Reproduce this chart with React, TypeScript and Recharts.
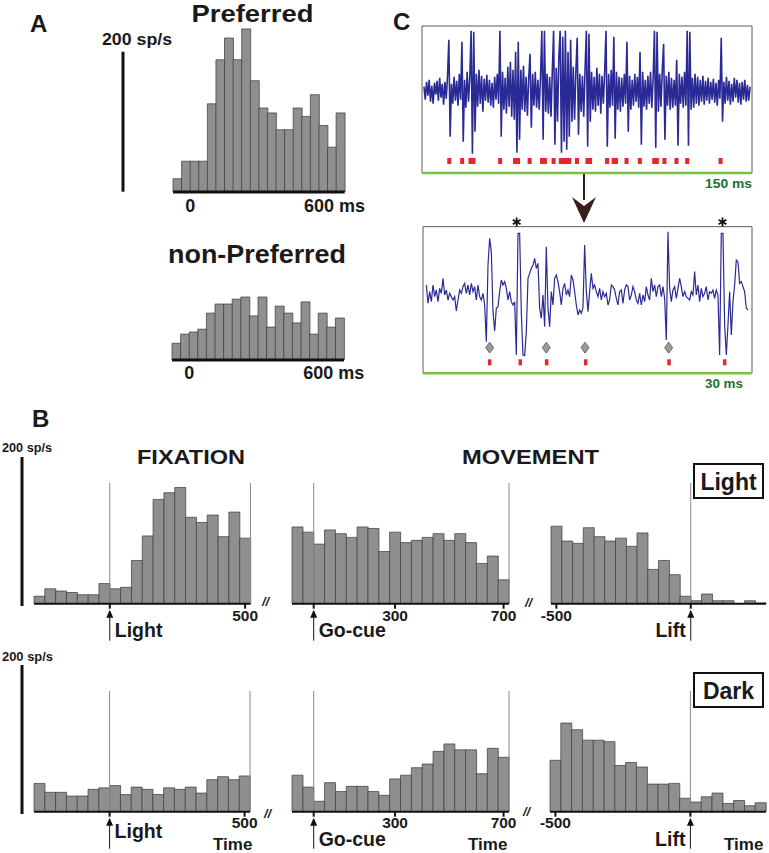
import React from 'react';
import {
  BarChart,
  Bar,
  XAxis,
  YAxis,
  ReferenceLine,
  ReferenceArea,
  ComposedChart,
  Line,
  Scatter,
} from 'recharts';

const FONT = '"Liberation Sans", Arial, Helvetica, sans-serif';
const BIN_MS = 40;

// A: firing rate (sp/s) in 40 ms bins starting at -80 ms
const preferredRates = [19, 44, 44, 44, 126, 189, 220, 189, 233, 159, 120, 113, 89, 89, 120, 108, 139, 95, 64, 113];
const nonPreferredRates = [24, 37, 40, 44, 67, 80, 80, 87, 90, 63, 90, 47, 77, 67, 53, 83, 37, 67, 47, 60];

// B: 40 ms bins. fixation starts -280 ms, go-cue -80 ms, lift -520 ms
const fixationLight = [10, 20, 17, 15, 12, 12, 27, 20, 22, 58, 91, 140, 149, 156, 116, 109, 119, 90, 123, 88];
const goCueLight = [103, 96, 80, 99, 94, 89, 103, 101, 70, 96, 82, 85, 89, 94, 85, 94, 82, 54, 64, 32];
const liftLight = [104, 84, 81, 102, 90, 84, 88, 77, 95, 46, 58, 39, 10, 4, 13, 4, 4, 0, 4, 1];
const fixationDark = [38, 26, 26, 21, 21, 30, 32, 35, 23, 33, 30, 23, 32, 30, 33, 25, 43, 47, 43, 48];
const goCueDark = [49, 33, 14, 39, 27, 34, 34, 27, 22, 44, 49, 59, 64, 81, 91, 83, 83, 51, 85, 73];
const liftDark = [69, 119, 110, 96, 96, 94, 62, 66, 60, 37, 37, 38, 18, 13, 20, 25, 11, 15, 8, 12];

// C: raw signal, 150 ms window (0.6 ms per sample)
const LONG_DT = 0.6;
const longTrace = [
  5, -8, 10, -4, 12, -10, 6, -12, 9, -3,
  11, -9, 14, -6, 8, -13, 10, -7, 16, 52,
  -45, 8, -12, 15, -9, 11, -14, 18, -8, 50,
  -50, 12, -16, 20, -10, 14, 61, -62, 60, -40,
  18, -15, 22, -12, 16, -20, 13, -9, 17, -11,
  12, -14, 9, -16, 15, -8, 18, -12, 61, -45,
  20, -18, 14, -22, 25, -15, 30, -25, 22, -28,
  40, -61, 50, -48, 22, -18, 26, -20, 15, -24,
  14, 38, -36, 18, -14, 20, -16, 12, -18, 15,
  61, -48, 61, -20, 18, -22, 15, -25, 20, 61,
  -53, 24, -30, 35, 61, -61, 55, -50, 61, -58,
  40, -45, 52, -30, 25, -28, 20, 54, -43, 18,
  -20, 16, -25, 22, 61, -55, 58, -30, 20, -18,
  15, -20, 24, -14, 18, -22, 16, -12, 20, 61,
  -55, 18, -16, 22, -14, 55, -47, 20, -18, 15,
  -20, 14, -15, 18, -12, 50, -40, 16, -18, 12,
  -14, 18, -10, 15, -16, 40, -53, 20, -15, 12,
  -18, 16, -12, 20, -16, 14, 61, -56, 60, -20,
  18, -15, 22, 48, -48, 16, -14, 20, -18, 14,
  -16, 12, -14, 32, -54, 18, -12, 15, -16, 20,
  -14, 61, -54, 60, -18, 14, -16, 18, -12, 15,
  -14, 12, -10, 16, -13, 11, -9, 14, -12, 10,
  -8, 13, -11, 9, -14, 12, -7, 54, -30, 10,
  -12, 15, -9, 11, -13, 8, -10, 14, -6, 12,
  -11, 9, -13, 10, -8, 12, -10, 7, -9, 5,
];
const longSpikeTimes = [
  11.6, 17.5, 21.3, 22.7, 34.9, 41.7, 43.1, 48.4, 54.1, 55.4, 59.4, 62.7, 63.9, 65.1, 66.6,
  70.1, 74.9, 76.1, 83.9, 86.9, 88.0, 92.8, 98.9, 105.5, 106.7, 110.2, 115.7, 120.6, 135.9,
];

// C: expanded 30 ms window (0.155 ms per sample)
const SHORT_DT = 0.155;
const shortTrace = [
  25, -30, 5, -25, 25, -10, 10, -25, 15, 0,
  45, -5, 10, -20, 0, -10, -20, -10, -53, -20,
  10, 0, 20, 30, 0, 25, -5, 30, 5, 20,
  -20, 25, -10, -20, 0, -35, -145, 85, 165, 125,
  -55, -113, -45, -40, 5, 40, 25, 35, 15, -20,
  5, -25, -35, -25, -185, 180, 180, -60, -185, -187,
  -115, 45, 60, 75, 85, 105, 75, 90, -45, -75,
  -5, -100, 140, -45, -100, 5, -35, 45, 55, 35,
  5, -35, 15, 30, -5, 10, -10, 55, 40, 5,
  -35, -65, -50, -60, -43, 145, 5, -55, 5, 60,
  15, 25, 5, -10, 15, -20, 5, -10, 0, -35,
  -20, 25, 20, 10, -15, -35, 5, 10, -30, 10,
  25, 20, -20, -5, 20, 5, -20, -30, 0, -35,
  -5, -25, 20, -5, -20, 45, 5, 25, -10, 20,
  25, -10, 20, -15, -140, 185, 15, -25, 10, 20,
  -15, 15, 45, 20, -10, 5, -10, -15, -20, 5,
  -5, 65, -5, 25, -25, 15, -10, 0, 20, -20,
  5, 0, 10, -15, 10, -5, -185, 180, 180, -95,
  -185, -95, 5, -125, -25, 25, 100, 95, 30, 35,
  20, 5, -45, -50,
];
const shortSpikeTimes = [5.89, 8.74, 11.19, 14.82, 22.57, 27.75];
const shortSortedTimes = [5.89, 11.16, 14.76, 22.54];
const shortStarTimes = [8.4, 27.55];

const A_PX = 0.7; // px per sp/s in A
const B_PX = 0.745; // px per sp/s in B

type HistProps = {
  rates: number[];
  start: number;
  ticks: number[];
  unitTick?: number;
  event?: string;
  eventSide?: 'left' | 'right';
  eventDy?: number;
  plotLeft: number;
  plotRight: number;
  baseline: number;
  yMax: number;
  pxPerSps: number;
  lines?: number[];
  axisWidth: number;
  tickMarks: boolean;
  labelDy: number;
  labelSize: number;
};

function Histogram(p: HistProps) {
  const padL = 28;
  const padR = 36;
  const padT = 2;
  const axisH = 46;
  const plotW = p.plotRight - p.plotLeft;
  const plotH = p.yMax * p.pxPerSps;
  const end = p.start + p.rates.length * BIN_MS;
  const rows = p.rates.map((rate, i) => ({ bin: i, t: p.start + (i + 0.5) * BIN_MS, rate }));

  const renderTick = (props: any) => {
    const { x, y, payload } = props;
    const v = payload.value;
    if (v === 0 && p.event) {
      const left = p.eventSide === 'left';
      return (
        <g>
          <line x1={x} y1={y} x2={x} y2={y + 5} stroke="#111" strokeWidth={2} />
          <line x1={x} y1={y + 10} x2={x} y2={y + 37} stroke="#111" strokeWidth={1} />
          <path d={`M${x} ${y + 6} L${x - 3.5} ${y + 14} L${x + 3.5} ${y + 14} Z`} fill="#111" />
          <text
            x={left ? x - 5 : x + 5}
            y={y + (p.eventDy ?? 33)}
            textAnchor={left ? 'end' : 'start'}
            fontFamily={FONT}
            fontWeight="bold"
            fontSize={19.5}
            fill="#1a1a1a"
          >
            {p.event}
          </text>
        </g>
      );
    }
    const isUnit = p.unitTick === v;
    const num = String(v);
    return (
      <g>
        {p.tickMarks && <line x1={x} y1={y} x2={x} y2={y + 5} stroke="#111" strokeWidth={2} />}
        <text
          x={isUnit ? x - (num.length * 0.556 * p.labelSize) / 2 : x}
          y={y + p.labelDy}
          textAnchor={isUnit ? 'start' : 'middle'}
          fontFamily={FONT}
          fontWeight="bold"
          fontSize={p.labelSize}
          fill="#1a1a1a"
        >
          {isUnit ? `${num} ms` : num}
        </text>
      </g>
    );
  };

  return (
    <div style={{ position: 'absolute', left: p.plotLeft - padL, top: p.baseline - plotH - padT }}>
      <BarChart
        width={plotW + padL + padR}
        height={padT + plotH + axisH}
        data={rows}
        margin={{ top: padT, right: padR, bottom: 0, left: padL }}
        barCategoryGap={0}
        barGap={0}
      >
        <XAxis
          xAxisId="t"
          dataKey="t"
          type="number"
          domain={[p.start, end]}
          ticks={p.ticks}
          interval={0}
          height={axisH}
          tickSize={0}
          tickMargin={0}
          tickLine={false}
          axisLine={{ stroke: '#111', strokeWidth: p.axisWidth }}
          tick={renderTick}
          allowDataOverflow
        />
        <XAxis dataKey="bin" hide height={0} />
        <YAxis hide domain={[0, p.yMax]} allowDataOverflow />
        <Bar dataKey="rate" fill="#8f8f8f" stroke="#3a3a3a" strokeWidth={0.7} isAnimationActive={false} />
        {(p.lines || []).map((lx) => (
          <ReferenceLine key={lx} xAxisId="t" x={lx} stroke="#8a8a8a" strokeWidth={1} />
        ))}
      </BarChart>
    </div>
  );
}

const redTick = (w: number, h: number) => (props: any) => (
  <rect x={props.cx - w / 2} y={props.cy - h / 2} width={w} height={h} fill="#e5262c" />
);

const diamond = (props: any) => {
  const { cx, cy } = props;
  return (
    <path
      d={`M${cx} ${cy - 5.5} L${cx + 4} ${cy} L${cx} ${cy + 5.5} L${cx - 4} ${cy} Z`}
      fill="#9b9b9b"
      stroke="#555"
      strokeWidth={0.8}
    />
  );
};

const star = (props: any) => {
  const { cx, cy } = props;
  const r = 4.5;
  const dx = r * 0.866;
  const dy = r * 0.5;
  return (
    <g stroke="#111" strokeWidth={1.8}>
      <line x1={cx} y1={cy - r} x2={cx} y2={cy + r} />
      <line x1={cx - dx} y1={cy - dy} x2={cx + dx} y2={cy + dy} />
      <line x1={cx - dx} y1={cy + dy} x2={cx + dx} y2={cy - dy} />
    </g>
  );
};

function LongTrace() {
  const rows = longTrace.map((v, i) => ({ t: i * LONG_DT, v }));
  const ticks = longSpikeTimes.map((t) => ({ t, v: -69.3 }));
  const xd: [number, number] = [-0.9, 150.3];
  const yd: [number, number] = [-81.3, 65.7];
  return (
    <div style={{ position: 'absolute', left: 418, top: 22 }}>
      <ComposedChart width={338} height={155} data={rows} margin={{ top: 4, right: 4, bottom: 4, left: 4 }}>
        <XAxis dataKey="t" type="number" domain={xd} hide allowDataOverflow />
        <YAxis dataKey="v" type="number" domain={yd} hide allowDataOverflow />
        <ReferenceArea x1={xd[0]} x2={xd[1]} y1={yd[0]} y2={yd[1]} fill="none" stroke="#5a5a5a" strokeWidth={1} />
        <ReferenceLine y={yd[0]} stroke="#79c143" strokeWidth={2.5} />
        <Line dataKey="v" stroke="#2a2a96" strokeWidth={1.6} dot={false} isAnimationActive={false} />
        <Scatter data={ticks} shape={redTick(4, 6)} isAnimationActive={false} />
      </ComposedChart>
    </div>
  );
}

function ShortTrace() {
  const rows = shortTrace.map((v, i) => ({ t: i * SHORT_DT, v }));
  const ticks = shortSpikeTimes.map((t) => ({ t, v: -207 }));
  const sorted = shortSortedTimes.map((t) => ({ t, v: -163 }));
  const stars = shortStarTimes.map((t) => ({ t, v: 214 }));
  const xd: [number, number] = [-0.31, 30.29];
  const yd: [number, number] = [-240, 250];
  const boxTop = 200;
  return (
    <div style={{ position: 'absolute', left: 419.3, top: 210 }}>
      <ComposedChart width={337} height={166.3} data={rows} margin={{ top: 0, right: 4, bottom: 3, left: 4 }}>
        <XAxis dataKey="t" type="number" domain={xd} hide allowDataOverflow />
        <YAxis dataKey="v" type="number" domain={yd} hide allowDataOverflow />
        <ReferenceArea x1={xd[0]} x2={xd[1]} y1={yd[0]} y2={boxTop} fill="none" stroke="#5a5a5a" strokeWidth={1} />
        <ReferenceLine y={yd[0]} stroke="#79c143" strokeWidth={2.5} />
        <Line dataKey="v" stroke="#2a2a96" strokeWidth={1.2} dot={false} isAnimationActive={false} />
        <Scatter data={sorted} shape={diamond} isAnimationActive={false} />
        <Scatter data={ticks} shape={redTick(3.5, 6)} isAnimationActive={false} />
        <Scatter data={stars} shape={star} isAnimationActive={false} />
      </ComposedChart>
    </div>
  );
}

const T = (props: any) => (
  <text fontFamily={FONT} fontWeight="bold" fill="#1a1a1a" {...props} />
);

export default function App() {
  const rowB = { yMax: 162, pxPerSps: B_PX, axisWidth: 2, tickMarks: true, labelSize: 15.5 };
  return (
    <div
      style={{
        position: 'absolute',
        left: 0,
        top: 0,
        width: 769,
        height: 853,
        overflow: 'hidden',
        background: '#fff',
      }}
    >
      {/* panel A */}
      <Histogram
        rates={preferredRates}
        start={-80}
        ticks={[0, 600]}
        unitTick={600}
        plotLeft={173.3}
        plotRight={345}
        baseline={191.7}
        yMax={240}
        pxPerSps={A_PX}
        axisWidth={3}
        tickMarks={false}
        labelDy={20}
        labelSize={18}
      />
      <Histogram
        rates={nonPreferredRates}
        start={-80}
        ticks={[0, 600]}
        unitTick={600}
        plotLeft={172.3}
        plotRight={344.3}
        baseline={360}
        yMax={110}
        pxPerSps={A_PX}
        axisWidth={3}
        tickMarks={false}
        labelDy={19}
        labelSize={18}
      />

      {/* panel C */}
      <LongTrace />
      <ShortTrace />

      {/* panel B, light */}
      <Histogram {...rowB} rates={fixationLight} start={-280} ticks={[0, 500]} event="Light" eventDy={33}
        plotLeft={33.5} plotRight={250} baseline={604} lines={[0, 520]} labelDy={17} />
      <Histogram {...rowB} rates={goCueLight} start={-80} ticks={[0, 300, 700]} event="Go-cue" eventDy={33}
        plotLeft={292} plotRight={509} baseline={604} lines={[0, 720]} labelDy={17} />
      <Histogram {...rowB} rates={liftLight} start={-520} ticks={[-500, 0]} event="Lift" eventSide="left" eventDy={33}
        plotLeft={551} plotRight={766} baseline={604} lines={[0]} labelDy={17} />

      {/* panel B, dark */}
      <Histogram {...rowB} rates={fixationDark} start={-280} ticks={[0, 500]} event="Light" eventDy={26}
        plotLeft={34} plotRight={250} baseline={812} lines={[0, 520]} labelDy={16} />
      <Histogram {...rowB} rates={goCueDark} start={-80} ticks={[0, 300, 700]} event="Go-cue" eventDy={34}
        plotLeft={292} plotRight={509} baseline={812} lines={[0, 720]} labelDy={16} />
      <Histogram {...rowB} rates={liftDark} start={-520} ticks={[-500, 0]} event="Lift" eventSide="left" eventDy={34}
        plotLeft={550} plotRight={766} baseline={812} lines={[0]} labelDy={16} />

      {/* labels, scale bars */}
      <svg width={769} height={853} style={{ position: 'absolute', left: 0, top: 0, pointerEvents: 'none' }}>
        <T x={30} y={32} fontSize={24}>A</T>
        <T x={252.5} y={22} fontSize={24} textAnchor="middle" textLength={122} lengthAdjust="spacingAndGlyphs">Preferred</T>
        <T x={102} y={45} fontSize={16} textLength={70} lengthAdjust="spacingAndGlyphs">200 sp/s</T>
        <line x1={123} y1={191.7 - 200 * A_PX} x2={123} y2={191.7} stroke="#111" strokeWidth={3} />
        <T x={168} y={263} fontSize={25} textLength={178} lengthAdjust="spacingAndGlyphs">non-Preferred</T>

        <T x={393} y={30} fontSize={24}>C</T>
        <T x={752} y={188} fontSize={13} textAnchor="end" fill="#1f6e33" textLength={47} lengthAdjust="spacingAndGlyphs">150 ms</T>
        <T x={743} y={388} fontSize={13} textAnchor="end" fill="#1f6e33" textLength={38} lengthAdjust="spacingAndGlyphs">30 ms</T>
        <line x1={584} y1={174} x2={584} y2={200} stroke="#3a1c1c" strokeWidth={2} />
        <path d="M572 197 L584 206 L596 197 L584 223 Z" fill="#3a1c1c" />

        <T x={32} y={427} fontSize={24}>B</T>
        <T x={2} y={452} fontSize={12.5} textLength={50} lengthAdjust="spacingAndGlyphs">200 sp/s</T>
        <line x1={22} y1={606 - 200 * B_PX} x2={22} y2={606} stroke="#111" strokeWidth={3} />
        <T x={137} y={464} fontSize={21} textLength={108} lengthAdjust="spacingAndGlyphs">FIXATION</T>
        <T x={462} y={464} fontSize={21} textLength={137} lengthAdjust="spacingAndGlyphs">MOVEMENT</T>
        <rect x={694} y={464} width={69} height={34} fill="none" stroke="#111" strokeWidth={2} />
        <T x={728.5} y={489.5} fontSize={23} textAnchor="middle">Light</T>

        <T x={2} y={661} fontSize={12.5} textLength={51} lengthAdjust="spacingAndGlyphs">200 sp/s</T>
        <line x1={22} y1={814 - 200 * B_PX} x2={22} y2={814} stroke="#111" strokeWidth={3} />
        <rect x={694} y={673} width={69} height={34} fill="none" stroke="#111" strokeWidth={2} />
        <T x={728.5} y={698.5} fontSize={23} textAnchor="middle">Dark</T>

        <T x={213} y={850} fontSize={17}>Time</T>
        <T x={468} y={850} fontSize={17}>Time</T>
        <T x={724} y={850} fontSize={17}>Time</T>

        <T x={262} y={606} fontSize={13} fontStyle="italic">//</T>
        <T x={525} y={607} fontSize={13} fontStyle="italic">//</T>
        <T x={264} y={818} fontSize={13} fontStyle="italic">//</T>
        <T x={523} y={816} fontSize={13} fontStyle="italic">//</T>
      </svg>
    </div>
  );
}
